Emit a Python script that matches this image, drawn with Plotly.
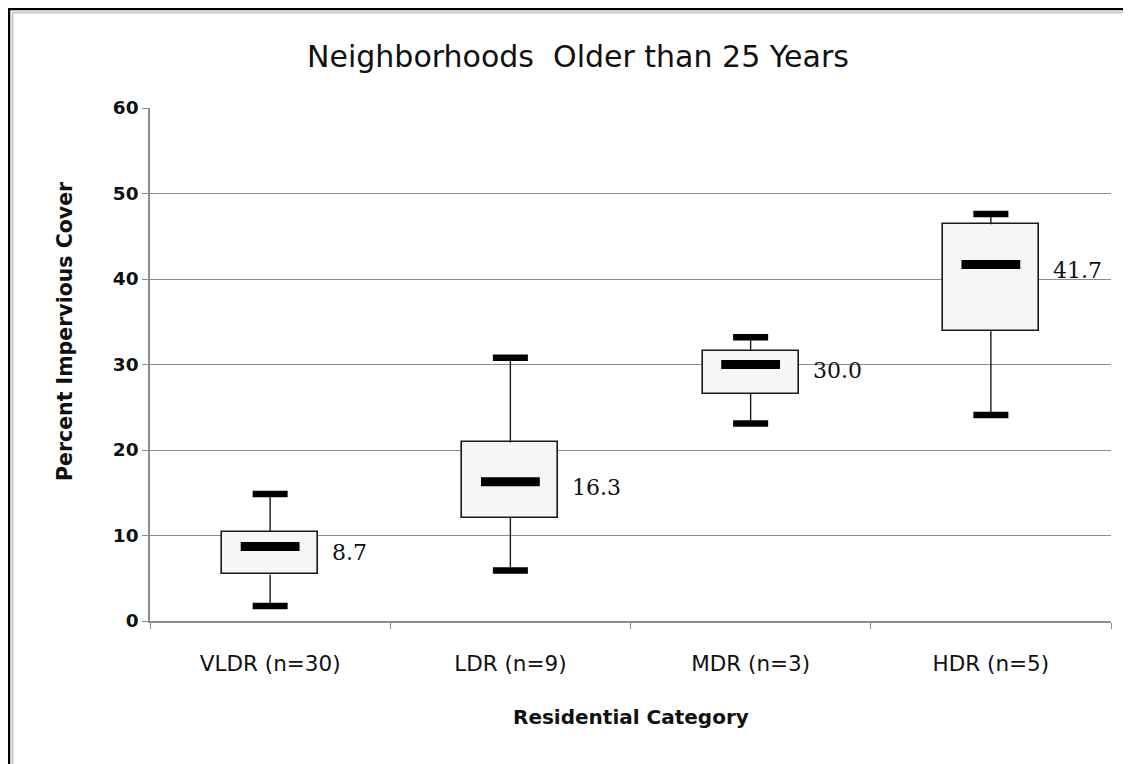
import plotly.graph_objects as go

categories = ["VLDR (n=30)", "LDR (n=9)", "MDR (n=3)", "HDR (n=5)"]
lower_whisker = [1.75, 5.9, 23.1, 24.1]
q1 = [5.45, 12.1, 26.6, 33.9]
median = [8.7, 16.3, 30.0, 41.7]
q3 = [10.45, 20.9, 31.6, 46.4]
upper_whisker = [14.85, 30.8, 33.2, 47.6]
median_labels = ["8.7", "16.3", "30.0", "41.7"]
y_ticks = [0, 10, 20, 30, 40, 50, 60]

# page has an 8px body margin; the figure spans page x 8..1131, y 8..764
OFF = 8
W, H = 1131 - OFF, 764 - OFF
L, R, T, B = 150 - OFF, 20, 108 - OFF, 764 - 621
pw, ph = W - L - R, H - T - B

SANS = "DejaVu Sans, Open Sans, sans-serif"

fig = go.Figure()

# boxes
fig.add_trace(go.Bar(
    x=categories, y=[b - a for a, b in zip(q1, q3)], base=q1, width=0.4,
    marker=dict(color="#f6f6f6", line=dict(color="#1a1a1a", width=1.6)),
    hoverinfo="skip", showlegend=False))

# whiskers
wx, wy = [], []
for c, a, b, lo, hi in zip(categories, q1, q3, lower_whisker, upper_whisker):
    wx += [c, c, None, c, c, None]
    wy += [b, hi, None, a, lo, None]
fig.add_trace(go.Scatter(x=wx, y=wy, mode="lines",
                         line=dict(color="#1a1a1a", width=1.4),
                         hoverinfo="skip", showlegend=False))

# caps
fig.add_trace(go.Scatter(
    x=categories + categories, y=upper_whisker + lower_whisker, mode="markers",
    marker=dict(symbol="line-ew", size=25, color="black",
                line=dict(color="black", width=6.5)),
    hoverinfo="skip", showlegend=False))

# medians
fig.add_trace(go.Scatter(
    x=categories, y=median, mode="markers",
    marker=dict(symbol="line-ew", size=42, color="black",
                line=dict(color="black", width=9)),
    hoverinfo="skip", showlegend=False))


def px_x(p):
    return (p - OFF - L) / pw


def px_y(p):
    return (621 - p) / ph


annotations = []
for c, m, t in zip(categories, median, median_labels):
    annotations.append(dict(
        x=c, y=m, xref="x", yref="y", text=t, showarrow=False,
        xanchor="left", yanchor="middle", xshift=60, yshift=-6,
        font=dict(family="DejaVu Serif, Liberation Serif, serif", size=22, color="#111")))

annotations.append(dict(
    text="Percent Impervious Cover", textangle=-90, showarrow=False,
    xref="paper", yref="paper", x=px_x(65), y=px_y(331),
    xanchor="center", yanchor="middle",
    font=dict(family=SANS, size=20.5, color="#111", weight="bold")))
annotations.append(dict(
    text="Residential Category", showarrow=False,
    xref="paper", yref="paper", x=px_x(631), y=px_y(717),
    xanchor="center", yanchor="middle",
    font=dict(family=SANS, size=20, color="#111", weight="bold")))

shapes = [
    dict(type="line", xref="paper", yref="paper", x0=px_x(8), x1=px_x(1131), y0=px_y(9), y1=px_y(9),
         line=dict(color="black", width=2.5)),
    dict(type="line", xref="paper", yref="paper", x0=px_x(9), x1=px_x(9), y0=px_y(8), y1=px_y(764),
         line=dict(color="black", width=2.5)),
    dict(type="line", xref="paper", yref="paper", x0=px_x(12), x1=px_x(1131), y0=px_y(12.5), y1=px_y(12.5),
         line=dict(color="#c8c8c8", width=2)),
    dict(type="line", xref="paper", yref="paper", x0=px_x(12.5), x1=px_x(12.5), y0=px_y(12), y1=px_y(764),
         line=dict(color="#c8c8c8", width=2)),
]

fig.update_layout(
    width=W, height=H,
    margin=dict(l=L, r=R, t=T, b=B),
    paper_bgcolor="white", plot_bgcolor="white",
    title=dict(text="Neighborhoods  Older than 25 Years", x=(578 - OFF) / W, xanchor="center",
               y=1 - (56 - OFF) / H, yanchor="middle",
               font=dict(family=SANS, size=30, color="#111")),
    annotations=annotations, shapes=shapes,
    bargap=0,
)
fig.update_xaxes(
    type="category", range=[-0.5, 3.5], showgrid=False,
    showline=True, linecolor="#8c8c8c", linewidth=1.5,
    ticks="outside", tickson="boundaries", ticklen=6, tickcolor="#8c8c8c",
    ticklabelstandoff=22,
    tickfont=dict(family=SANS, size=21.5, color="#111"),
)
fig.update_yaxes(
    range=[0, 60], tickvals=y_ticks, showgrid=True, gridcolor="#8c8c8c", gridwidth=1.3,
    showline=True, linecolor="#8c8c8c", linewidth=1.5, zeroline=False,
    ticks="outside", ticklen=6, tickcolor="#8c8c8c",
    tickfont=dict(family=SANS, size=18.5, color="#111", weight="bold"),
)

fig.write_html("out.html")
